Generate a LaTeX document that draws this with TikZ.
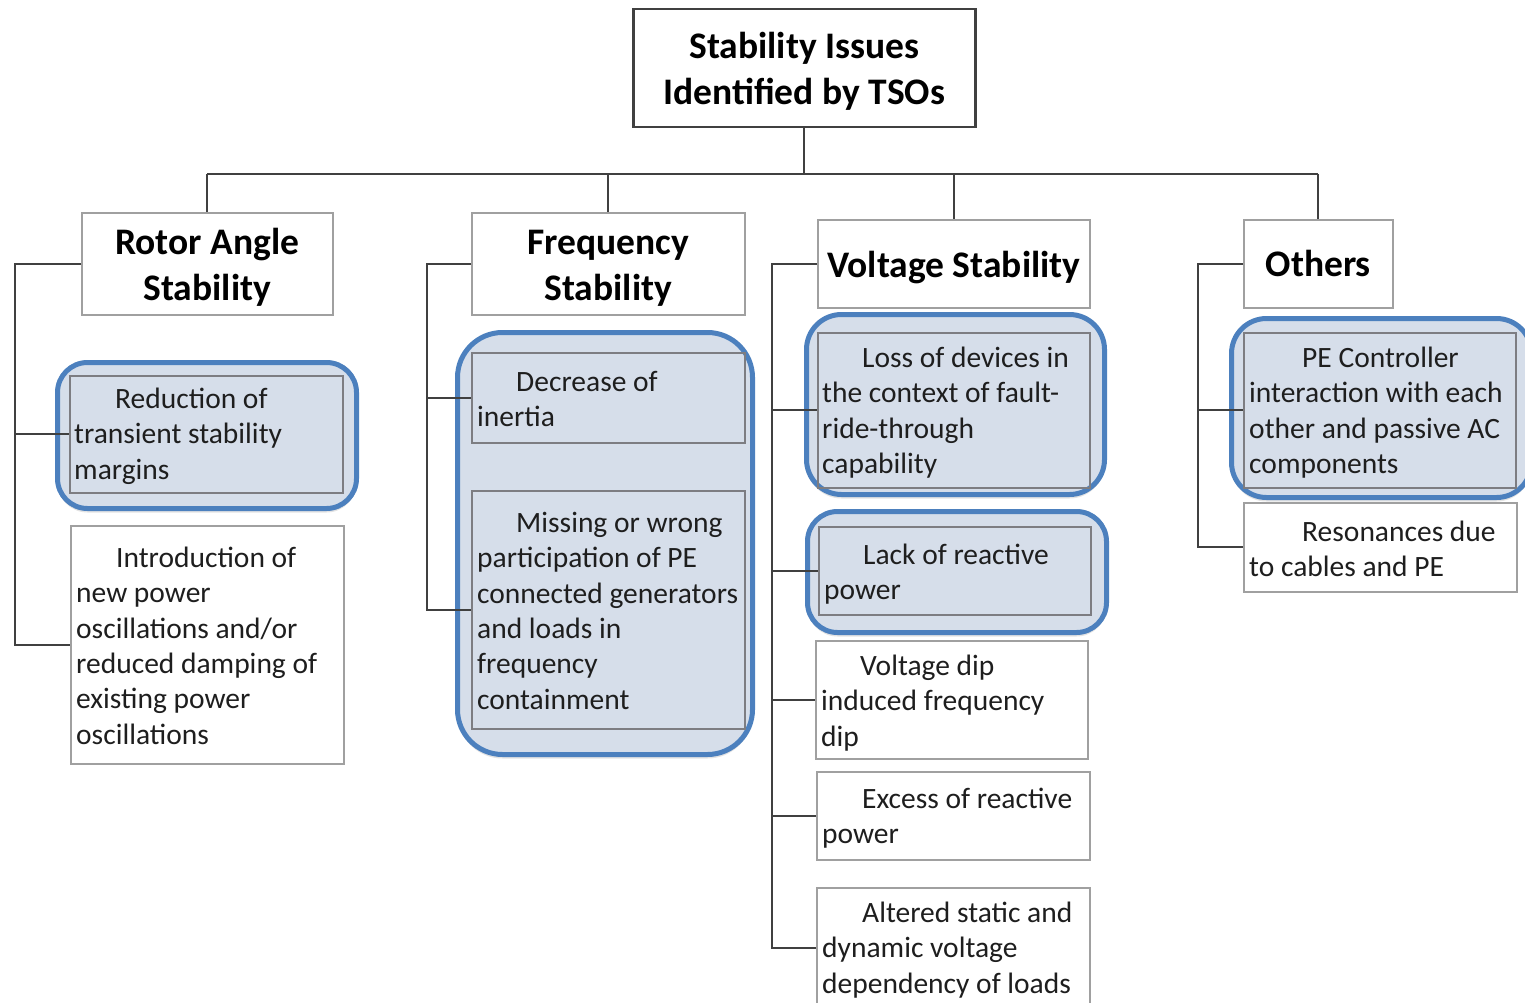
\documentclass[tikz,border=0pt]{standalone}
\usepackage{fontspec}
\setmainfont{Carlito}
\usetikzlibrary{shadows}
\definecolor{hlfill}{RGB}{214,222,234}
\definecolor{hlline}{RGB}{76,128,190}
\definecolor{connc}{RGB}{64,64,64}
\definecolor{boxline}{RGB}{160,160,160}
\definecolor{innerline}{RGB}{125,125,130}
\definecolor{txtc}{RGB}{30,30,30}
\begin{document}
\begin{tikzpicture}[x=1pt,y=-1pt,
  conn/.style={draw=connc, line width=2pt},
  titlebox/.style={draw=boxline, line width=1.5pt, fill=white, inner sep=0pt, anchor=north west,
    font=\bfseries\fontsize{37.5}{46}\selectfont, align=center, text=black},
  rootbox/.style={titlebox, draw=connc, line width=2.5pt},
  itembox/.style={draw=boxline, line width=1.5pt, inner sep=0pt, anchor=north west},
  inbox/.style={itembox, draw=innerline},
  hlbox/.style={draw=hlline, line width=5pt, fill=hlfill, inner sep=0pt, anchor=north west,
    drop shadow={shadow xshift=0pt, shadow yshift=-4pt, opacity=0.22}},
  itemtext/.style={font=\fontsize{29.5}{35.3}\selectfont, align=left, anchor=north west, inner sep=0pt, text=txtc},
]
\useasboundingbox (0,0) rectangle (1525,1003);
\clip (0,0) rectangle (1525,1003);
\fill[white] (0,0) rectangle (1525,1003);

% highlight frames
\node[hlbox, rounded corners=30pt, minimum width=299pt, minimum height=146pt] (hlA) at (55,360) {};
\node[hlbox, rounded corners=45pt, minimum width=295pt, minimum height=422pt] (hlB) at (455,330) {};
\node[hlbox, rounded corners=35pt, minimum width=298pt, minimum height=180pt] (hlC) at (804,312) {};
\node[hlbox, rounded corners=30pt, minimum width=299pt, minimum height=121pt] (hlD) at (805,509) {};
\node[hlbox, rounded corners=35pt, minimum width=300pt, minimum height=179pt] (hlE) at (1229,316) {};

% item boxes
\node[inbox, minimum width=273pt, minimum height=117pt] (red) at (69,375) {};
\node[itembox, minimum width=273pt, minimum height=238pt] (intro) at (70,525) {};
\node[inbox, minimum width=273pt, minimum height=90pt] (dec) at (471,352) {};
\node[inbox, minimum width=273pt, minimum height=238pt] (mis) at (471,490) {};
\node[inbox, minimum width=272pt, minimum height=155pt] (loss) at (817,332) {};
\node[inbox, minimum width=272pt, minimum height=88pt] (lack) at (818,526) {};
\node[itembox, minimum width=272pt, minimum height=118pt] (vdip) at (815,640) {};
\node[itembox, minimum width=273pt, minimum height=88pt] (exc) at (816,771) {};
\node[itembox, minimum width=273pt, minimum height=120pt] (alt) at (816,887) {};
\node[inbox, minimum width=272pt, minimum height=155pt] (pe) at (1243,332) {};
\node[itembox, minimum width=273pt, minimum height=89pt] (res) at (1243,502) {};

% title boxes
\node[rootbox, minimum width=342pt, minimum height=118pt] (root) at (632,8) {\rule{0pt}{32pt}Stability Issues\\Identified by TSOs};
\node[titlebox, minimum width=251pt, minimum height=102pt] (rot) at (81,212) {\rule{0pt}{33pt}Rotor Angle\\Stability};
\node[titlebox, minimum width=273pt, minimum height=102pt] (frq) at (471,212) {\rule{0pt}{33pt}Frequency\\Stability};
\node[titlebox, minimum width=272pt, minimum height=88pt] (vol) at (817,219) {\rule{0pt}{34pt}Voltage Stability};
\node[titlebox, minimum width=149pt, minimum height=88pt] (oth) at (1243,219) {Others};

% connectors
\coordinate (busy) at (0,174);
\coordinate (bus) at (root.south |- busy);
\coordinate (railA) at (15,0);
\coordinate (railB) at (427,0);
\coordinate (railC) at (772,0);
\coordinate (railD) at (1198,0);
\draw[conn] (root.south) -- (bus);
\draw[conn] (rot.north |- bus) -- (oth.north |- bus);
\foreach \n in {rot,frq,vol,oth} \draw[conn] (\n.north |- bus) -- (\n.north);

\draw[conn] (rot.west) -- (rot.west -| railA) -- (intro.west -| railA) -- (intro.west);
\draw[conn] (red.west -| railA) -- (red.west);

\draw[conn] (frq.west) -- (frq.west -| railB) -- (mis.west -| railB) -- (mis.west);
\draw[conn] (dec.west -| railB) -- (dec.west);

\draw[conn] (vol.west) -- (vol.west -| railC) -- (alt.west -| railC) -- (alt.west);
\foreach \n in {loss,lack,vdip,exc} \draw[conn] (\n.west -| railC) -- (\n.west);

\draw[conn] (oth.west) -- (oth.west -| railD) -- (res.west -| railD) -- (res.west);
\draw[conn] (pe.west -| railD) -- (pe.west);

% texts
\node[itemtext] (redT) at (74,388) {\hspace*{41pt}Reduction of\\transient stability\\margins};
\node[itemtext] (introT) at (76,547) {\hspace*{40pt}Introduction of\\new power\\oscillations and/or\\reduced damping of\\existing power\\oscillations};
\node[itemtext] (decT) at (477,371) {\hspace*{39pt}Decrease of\\inertia};
\node[itemtext] (misT) at (477,512) {\hspace*{39pt}Missing or wrong\\participation of PE\\connected generators\\and loads in\\frequency\\containment};
\node[itemtext] (lossT) at (822,347) {\hspace*{40pt}Loss of devices in\\the context of fault-\\ride-through\\capability};
\node[itemtext] (lackT) at (824,544) {\hspace*{39pt}Lack of reactive\\power};
\node[itemtext] (vdipT) at (821,655) {\hspace*{39pt}Voltage dip\\induced frequency\\dip};
\node[itemtext] (excT) at (822,788) {\hspace*{40pt}Excess of reactive\\power};
\node[itemtext] (altT) at (822,902) {\hspace*{40pt}Altered static and\\dynamic voltage\\dependency of loads};
\node[itemtext] (peT) at (1249,347) {\hspace*{53pt}PE Controller\\interaction with each\\other and passive AC\\components};
\node[itemtext] (resT) at (1249,521) {\hspace*{53pt}Resonances due\\to cables and PE};
\end{tikzpicture}
\end{document}
